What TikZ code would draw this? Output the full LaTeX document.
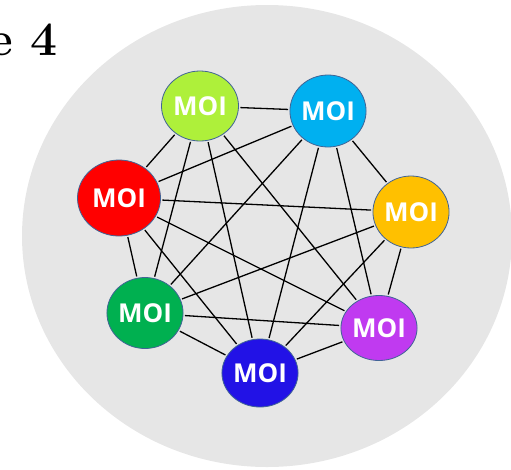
\RequirePackage{fix-cm}
\documentclass[tikz,border=0pt]{standalone}
\usepackage{fontspec}
\newfontfamily\moifont{Open Sans}
\usetikzlibrary{shapes.geometric}

\definecolor{bgGrey}{RGB}{230,230,230}
\definecolor{moiEdge}{RGB}{65,100,150}
\definecolor{moiLime}{RGB}{174,240,58}
\definecolor{moiCyan}{RGB}{0,176,240}
\definecolor{moiRed}{RGB}{255,0,0}
\definecolor{moiOrange}{RGB}{255,192,0}
\definecolor{moiGreen}{RGB}{0,176,80}
\definecolor{moiPurple}{RGB}{192,58,240}
\definecolor{moiBlue}{RGB}{34,18,230}

\begin{document}
\begin{tikzpicture}[x=1pt,y=-1pt,
  moi/.style={ellipse,draw=moiEdge,line width=0.8pt,inner sep=0pt,text=white,
    font=\moifont\bfseries\fontsize{26}{26}\selectfont},
  link/.style={line width=1.3pt,shorten <=1.5pt,shorten >=1.5pt}]
  \useasboundingbox (0,0) rectangle (511,469);
  \fill[bgGrey] (267,236) ellipse [x radius=245, y radius=231];

  \node[anchor=base east,inner sep=0pt,font=\fontsize{48}{48}\usefont{OT1}{cmr}{bx}{n}] (fig) at (58,55) {e 4};

  \node[moi,fill=moiLime,minimum width=77,minimum height=70]   (lime)   at (200,106) {MOI};
  \node[moi,fill=moiCyan,minimum width=73,minimum height=72]   (cyan)   at (328,111) {MOI};
  \node[moi,fill=moiRed,minimum width=83,minimum height=76]    (red)    at (119,198) {MOI};
  \node[moi,fill=moiOrange,minimum width=74,minimum height=72] (orange) at (411,212) {MOI};
  \node[moi,fill=moiGreen,minimum width=76,minimum height=71]  (green)  at (145,313) {MOI};
  \node[moi,fill=moiPurple,minimum width=75,minimum height=65] (purple) at (379,328) {MOI};
  \node[moi,fill=moiBlue,minimum width=75,minimum height=68]   (blue)   at (260,373) {MOI};

  \foreach \a/\b in {lime/cyan,lime/red,lime/green,lime/blue,lime/purple,
                     cyan/red,cyan/green,cyan/blue,cyan/purple,cyan/orange,
                     red/orange,red/purple,red/blue,red/green,
                     orange/green,orange/blue,orange/purple,
                     green/purple,green/blue,purple/blue} {
    \draw[link] (\a) -- (\b);
  }
\end{tikzpicture}
\end{document}
